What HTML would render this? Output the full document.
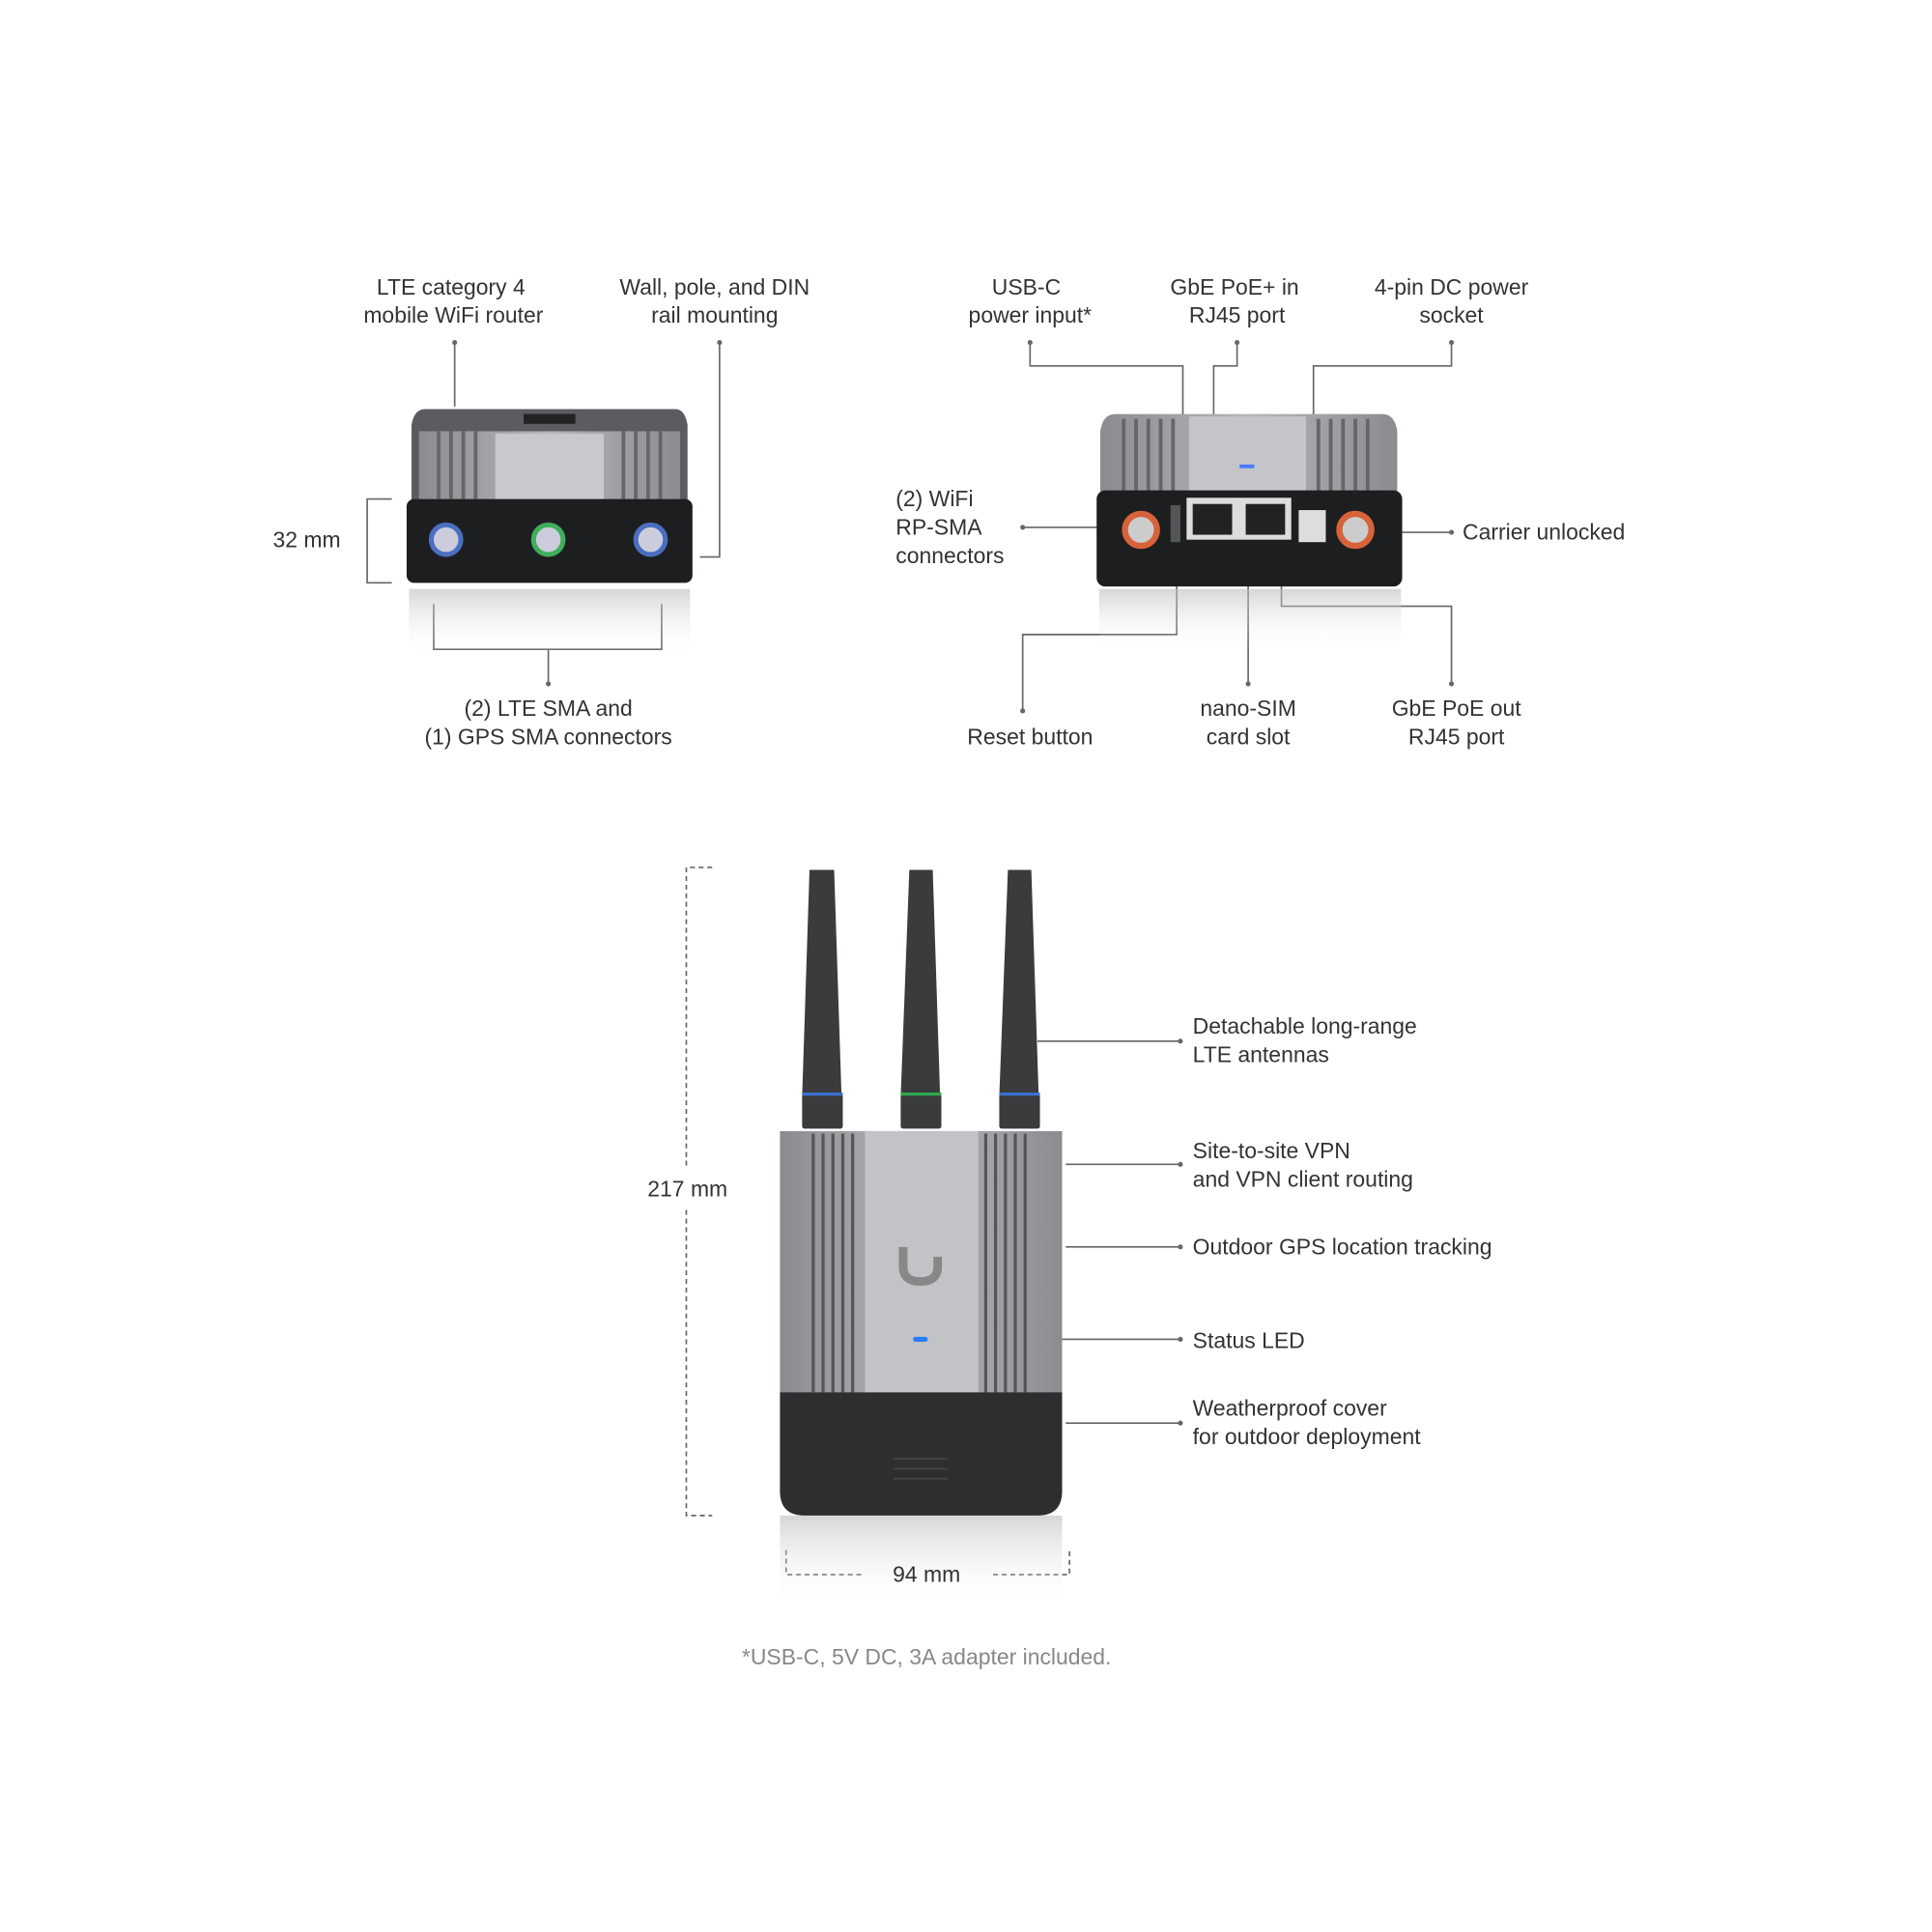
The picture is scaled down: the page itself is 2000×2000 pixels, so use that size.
<!DOCTYPE html>
<html><head><meta charset="utf-8"><style>
html,body{margin:0;padding:0;background:#fff;}
svg{display:block;}
text{font-family:"Liberation Sans",sans-serif;font-size:18px;fill:#333;}
</style></head><body>
<svg width="2000" height="2000" viewBox="0 0 1568 1568" xmlns="http://www.w3.org/2000/svg">
<defs>
<linearGradient id="refl" x1="0" y1="0" x2="0" y2="1"><stop offset="0" stop-color="#bbb" stop-opacity=".6"/><stop offset="1" stop-color="#fff" stop-opacity="0"/></linearGradient>
<linearGradient id="gray" x1="0" y1="0" x2="1" y2="0"><stop offset="0" stop-color="#8a8c90"/><stop offset=".5" stop-color="#b4b6ba"/><stop offset="1" stop-color="#8a8c90"/></linearGradient>
</defs>
<g stroke="#666" stroke-width="1.3" fill="none">
<path d="M369 278V330"/><path d="M584 278V452H568"/>
<path d="M318 405H298V473H318"/>
<path d="M352 490V527H537V490M445 527V555"/>
<path d="M836 278V297H960V410"/><path d="M1004 278V297H985V402"/><path d="M1178 278V297H1066V405"/>
<path d="M830 428H905"/><path d="M1137 432H1178"/>
<path d="M830 577V515H955V462"/><path d="M1013 555V462"/><path d="M1178 555V492H1040V462"/>
<path d="M842 845H958M865 945H958M865 1012H958M758 1087H958M865 1155H958"/>
<path d="M578 704H557V948M557 982V1230H578" stroke-dasharray="4 3"/>
<path d="M638 1258V1278H700M806 1278H868V1258" stroke-dasharray="4 3"/>
</g>
<g fill="#666">
<circle cx="369" cy="278" r="2"/><circle cx="584" cy="278" r="2"/><circle cx="445" cy="555" r="2"/>
<circle cx="836" cy="278" r="2"/><circle cx="1004" cy="278" r="2"/><circle cx="1178" cy="278" r="2"/>
<circle cx="830" cy="428" r="2"/><circle cx="1178" cy="432" r="2"/><circle cx="830" cy="577" r="2"/><circle cx="1013" cy="555" r="2"/><circle cx="1178" cy="555" r="2"/>
<circle cx="958" cy="845" r="2"/><circle cx="958" cy="945" r="2"/><circle cx="958" cy="1012" r="2"/><circle cx="958" cy="1087" r="2"/><circle cx="958" cy="1155" r="2"/>
</g>
<rect x="332" y="478" width="228" height="55" fill="url(#refl)"/>
<path d="M345 332H548Q556 332 558 345V410H334V345Q336 332 345 332Z" fill="#5a5c60"/>
<rect x="340" y="350" width="212" height="60" fill="url(#gray)"/>
<rect x="402" y="352" width="88" height="56" fill="#c8c9cc"/>
<rect x="425" y="336" width="42" height="8" fill="#222"/>
<g stroke="#666" stroke-width="3"><path d="M356 350V405M366 350V405M376 350V405M386 350V405M506 350V405M516 350V405M526 350V405M536 350V405"/></g>
<rect x="330" y="405" width="232" height="68" rx="6" fill="#1d1e20"/>
<g stroke-width="4" fill="#ccd"><circle cx="362" cy="438" r="12" stroke="#4a6fc0"/><circle cx="445" cy="438" r="12" stroke="#3fae5a"/><circle cx="528" cy="438" r="12" stroke="#4a6fc0"/></g>
<rect x="892" y="478" width="245" height="50" fill="url(#refl)"/>
<path d="M905 336H1122Q1132 336 1134 350V405H893V350Q895 336 905 336Z" fill="url(#gray)"/>
<rect x="965" y="338" width="95" height="65" fill="#c4c5c8"/>
<g stroke="#666" stroke-width="3"><path d="M912 340V402M922 340V402M932 340V402M942 340V402M952 340V402M1070 340V402M1080 340V402M1090 340V402M1100 340V402M1110 340V402"/></g>
<rect x="1006" y="377" width="12" height="3" fill="#4a7aff"/>
<rect x="890" y="398" width="248" height="78" rx="7" fill="#1d1e20"/>
<rect x="963" y="404" width="85" height="34" fill="#ddd"/><rect x="968" y="409" width="32" height="25" fill="#222"/><rect x="1011" y="409" width="32" height="25" fill="#222"/>
<rect x="1054" y="414" width="22" height="26" fill="#ddd"/>
<rect x="950" y="410" width="8" height="30" fill="#555"/>
<g stroke="#d8623a" stroke-width="5" fill="#ccc"><circle cx="926" cy="430" r="13"/><circle cx="1100" cy="430" r="13"/></g>
<rect x="633" y="1230" width="229" height="75" fill="url(#refl)"/>
<g fill="#3a3b3d">
<path d="M657 706H677L683 890H651Z" /><path d="M738 706H757L763 890H731Z"/><path d="M818 706H837L843 890H811Z"/>
<rect x="651" y="888" width="33" height="28" rx="2"/><rect x="731" y="888" width="33" height="28" rx="2"/><rect x="811" y="888" width="33" height="28" rx="2"/>
</g>
<g stroke-width="2.5"><path d="M651 888H684M811 888H844" stroke="#3a6fd0"/><path d="M731 888H764" stroke="#2ea850"/></g>
<rect x="633" y="918" width="229" height="214" fill="url(#gray)"/>
<rect x="702" y="918" width="92" height="214" fill="#c2c3c6"/>
<g stroke="#555" stroke-width="2.5"><path d="M660 920V1130M668 920V1130M676 920V1130M684 920V1130M692 920V1130M800 920V1130M808 920V1130M816 920V1130M824 920V1130M832 920V1130"/></g>
<path d="M733 1012V1028Q733 1040 747 1040Q761 1040 761 1028V1020" stroke="#888" stroke-width="7" fill="none"/>
<rect x="741" y="1085" width="12" height="4" rx="2" fill="#2a7bff"/>
<path d="M633 1130H862V1210Q862 1230 842 1230H653Q633 1230 633 1210Z" fill="#2d2e30"/>
<path d="M725 1184H769M725 1192H769M725 1200H769" stroke="#444" stroke-width="1.5"/>
<g text-anchor="middle">
<text x="366" y="239">LTE category 4</text><text x="368" y="262">mobile WiFi router</text>
<text x="580" y="239">Wall, pole, and DIN</text><text x="580" y="262">rail mounting</text>
<text x="445" y="581">(2) LTE SMA and</text><text x="445" y="604">(1) GPS SMA connectors</text>
<text x="833" y="239">USB-C</text><text x="836" y="262">power input*</text>
<text x="1002" y="239">GbE PoE+ in</text><text x="1004" y="262">RJ45 port</text>
<text x="1178" y="239">4-pin DC power</text><text x="1178" y="262">socket</text>
<text x="836" y="604">Reset button</text>
<text x="1013" y="581">nano-SIM</text><text x="1013" y="604">card slot</text>
<text x="1182" y="581">GbE PoE out</text><text x="1182" y="604">RJ45 port</text>
<text x="249" y="444">32 mm</text>
<text x="558" y="971">217 mm</text>
<text x="752" y="1284">94 mm</text>
<text x="752" y="1351" style="fill:#888">*USB-C, 5V DC, 3A adapter included.</text>
</g>
<text x="727" y="411">(2) WiFi</text><text x="727" y="434">RP-SMA</text><text x="727" y="457">connectors</text>
<text x="1187" y="438">Carrier unlocked</text>
<text x="968" y="839">Detachable long-range</text><text x="968" y="862">LTE antennas</text>
<text x="968" y="940">Site-to-site VPN</text><text x="968" y="963">and VPN client routing</text>
<text x="968" y="1018">Outdoor GPS location tracking</text>
<text x="968" y="1094">Status LED</text>
<text x="968" y="1149">Weatherproof cover</text><text x="968" y="1172">for outdoor deployment</text>
</svg>
</body></html>
